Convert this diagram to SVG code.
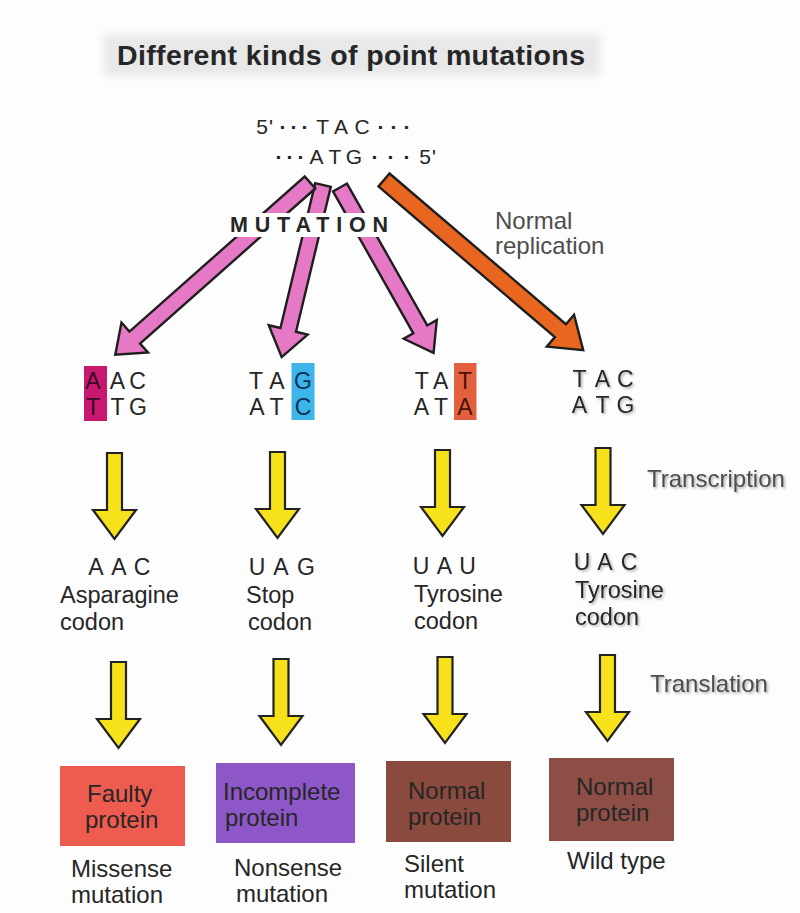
<svg xmlns="http://www.w3.org/2000/svg" width="800" height="913" viewBox="0 0 800 913">
<style>
text{font-family:"Liberation Sans",Arial,sans-serif;fill:#262626}
.dna{font-size:21px;text-anchor:middle}
.dot{font-weight:bold}
.cod{font-size:23px;text-anchor:middle}
.lab{font-size:23.5px}
.side{font-size:24px;fill:#4d4d4d}
.box{font-size:24px}
.foot{font-size:24px}
.pink{fill:#e679c6;stroke:#1e1e1e;stroke-width:2.4;stroke-linejoin:miter}
.orange{fill:#e8661f;stroke:#1e1e1e;stroke-width:2.4}
.yel{fill:#f6e11b;stroke:#222;stroke-width:2.2}
</style>
<defs>
<filter id="sh" x="-10%" y="-30%" width="130%" height="170%">
<feDropShadow dx="1.5" dy="1.5" stdDeviation="1.2" flood-color="#777" flood-opacity="0.6"/>
</filter>
<filter id="blur" x="-5%" y="-50%" width="110%" height="200%">
<feGaussianBlur stdDeviation="4"/>
</filter>
<path id="ya" d="M-7.5,0 H7.5 V57 H21.5 L0,86 L-21.5,57 H-7.5 Z"/>
</defs>
<rect width="800" height="913" fill="#fdfdfd"/>

<g id="title">
<rect x="104" y="34" width="496" height="42" fill="#e8e8e8" filter="url(#blur)"/>
<text x="117" y="65" font-size="28.5" font-weight="bold" textLength="468" lengthAdjust="spacing" fill="#1a1a1a">Different kinds of point mutations</text>
</g>

<g id="dna">
<text class="dna" y="134"><tspan x="262">5</tspan><tspan x="271">'</tspan><tspan class="dot" x="283">·</tspan><tspan class="dot" x="294">·</tspan><tspan class="dot" x="305">·</tspan><tspan x="322.7">T</tspan><tspan x="341">A</tspan><tspan x="362">C</tspan><tspan class="dot" x="381">·</tspan><tspan class="dot" x="394">·</tspan><tspan class="dot" x="407">·</tspan></text>
<text class="dna" y="164"><tspan class="dot" x="279">·</tspan><tspan class="dot" x="290">·</tspan><tspan class="dot" x="301">·</tspan><tspan x="316.6">A</tspan><tspan x="335">T</tspan><tspan x="354">G</tspan><tspan class="dot" x="375">·</tspan><tspan class="dot" x="391">·</tspan><tspan class="dot" x="407">·</tspan><tspan x="425">5</tspan><tspan x="434">'</tspan></text>
</g>

<g id="connectors">
<path class="pink" transform="translate(323,185) rotate(103.5)" d="M0,-8 L149,-8 L149,-20 L177,0 L149,20 L149,8 L0,8 Z"/>
<path class="pink" transform="translate(310,182.5) rotate(138.5)" d="M0,-8 L234,-8 L234,-20 L260,0 L234,20 L234,8 L0,8 Z"/>
<path class="pink" transform="translate(340,187.5) rotate(60.5)" d="M0,-8 L163,-8 L163,-19 L190,0 L163,19 L163,8 L0,8 Z"/>
<path class="orange" transform="translate(384,180) rotate(40.5)" d="M0,-8.5 L232,-8.5 L232,-21 L262,0 L232,21 L232,8.5 L0,8.5 Z"/>
<use href="#ya" class="yel" x="114.5" y="453"/>
<use href="#ya" class="yel" x="277.5" y="452"/>
<use href="#ya" class="yel" x="442.5" y="450"/>
<use href="#ya" class="yel" x="603" y="448"/>
<use href="#ya" class="yel" x="118.5" y="662"/>
<use href="#ya" class="yel" x="281" y="659"/>
<use href="#ya" class="yel" x="445" y="657"/>
<use href="#ya" class="yel" x="607.5" y="655"/>
</g>

<g id="mutation-label">
<rect x="226" y="213" width="166" height="24" fill="#fdfdfd"/>
<text x="230" y="232" font-size="21.5" font-weight="bold" textLength="158" lengthAdjust="spacing" fill="#1a1a1a">MUTATION</text>
</g>

<g id="normal-replication-label">
<text class="side" x="495" y="229">Normal</text>
<text class="side" x="495" y="254">replication</text>
</g>

<g id="dna-missense">
<rect x="84" y="366" width="23" height="55" fill="#c8196f"/>
<text class="cod" y="389"><tspan x="93" fill="#3a0a22">A</tspan><tspan x="117.5">A</tspan><tspan x="137.5">C</tspan></text>
<text class="cod" y="415"><tspan x="93" fill="#3a0a22">T</tspan><tspan x="117.5">T</tspan><tspan x="138">G</tspan></text>
</g>
<g id="dna-nonsense">
<rect x="291.5" y="363" width="23" height="57" fill="#3db5e9"/>
<text class="cod" y="389"><tspan x="256">T</tspan><tspan x="277">A</tspan><tspan x="303" fill="#10305a">G</tspan></text>
<text class="cod" y="415"><tspan x="257">A</tspan><tspan x="276.5">T</tspan><tspan x="303" fill="#10305a">C</tspan></text>
</g>
<g id="dna-silent">
<rect x="454" y="363" width="22.5" height="57" fill="#e3603f"/>
<text class="cod" y="389"><tspan x="421.7">T</tspan><tspan x="440.7">A</tspan><tspan x="465" fill="#4a1208">T</tspan></text>
<text class="cod" y="415"><tspan x="421.5">A</tspan><tspan x="441">T</tspan><tspan x="465" fill="#4a1208">A</tspan></text>
</g>
<g id="dna-wild" filter="url(#sh)">
<text class="cod" y="387" fill="#444"><tspan x="579.5">T</tspan><tspan x="602.5">A</tspan><tspan x="625.4">C</tspan></text>
<text class="cod" y="413" fill="#444"><tspan x="579.5">A</tspan><tspan x="602.5">T</tspan><tspan x="625.4">G</tspan></text>
</g>

<g id="side-labels" filter="url(#sh)">
<text class="side" x="647" y="487">Transcription</text>
<text class="side" x="650" y="692">Translation</text>
</g>

<g id="mrna-missense">
<text class="cod" y="575"><tspan x="96">A</tspan><tspan x="119">A</tspan><tspan x="142">C</tspan></text>
<text class="lab" x="60" y="603">Asparagine</text>
<text class="lab" x="60" y="630">codon</text>
</g>
<g id="mrna-nonsense">
<text class="cod" y="575"><tspan x="257">U</tspan><tspan x="281">A</tspan><tspan x="306">G</tspan></text>
<text class="lab" x="246" y="603">Stop</text>
<text class="lab" x="248" y="630">codon</text>
</g>
<g id="mrna-silent">
<text class="cod" y="574"><tspan x="421">U</tspan><tspan x="444.5">A</tspan><tspan x="467.5">U</tspan></text>
<text class="lab" x="414" y="602">Tyrosine</text>
<text class="lab" x="414" y="629">codon</text>
</g>
<g id="mrna-wild" filter="url(#sh)">
<text class="cod" y="570" fill="#3a3a3a"><tspan x="582">U</tspan><tspan x="605">A</tspan><tspan x="629">C</tspan></text>
<text class="lab" x="575" y="598" fill="#3a3a3a">Tyrosine</text>
<text class="lab" x="575" y="625" fill="#3a3a3a">codon</text>
</g>

<g id="protein-faulty">
<rect x="60" y="766" width="125" height="80" fill="#ee5b4f"/>
<text class="box" x="87" y="802" fill="#4a0e0e">Faulty</text>
<text class="box" x="85" y="828" fill="#4a0e0e">protein</text>
</g>
<g id="protein-incomplete">
<rect x="216" y="763" width="139" height="80" fill="#8e57c7"/>
<text class="box" x="223" y="800" fill="#1c1246">Incomplete</text>
<text class="box" x="225" y="826" fill="#1c1246">protein</text>
</g>
<g id="protein-normal-silent">
<rect x="386" y="761" width="125" height="81" fill="#8a4a3e"/>
<text class="box" x="408" y="799" fill="#2a1210">Normal</text>
<text class="box" x="408" y="825" fill="#2a1210">protein</text>
</g>
<g id="protein-normal-wild">
<rect x="549" y="758" width="125" height="83" fill="#8d4e45"/>
<text class="box" x="576" y="795" fill="#2a1210">Normal</text>
<text class="box" x="576" y="821" fill="#2a1210">protein</text>
</g>

<g id="mutation-types">
<text class="foot" x="71" y="877">Missense</text>
<text class="foot" x="71" y="903">mutation</text>
<text class="foot" x="234" y="876">Nonsense</text>
<text class="foot" x="236" y="902">mutation</text>
<text class="foot" x="404" y="872">Silent</text>
<text class="foot" x="404" y="898">mutation</text>
<text class="foot" x="567" y="869">Wild type</text>
</g>
</svg>
